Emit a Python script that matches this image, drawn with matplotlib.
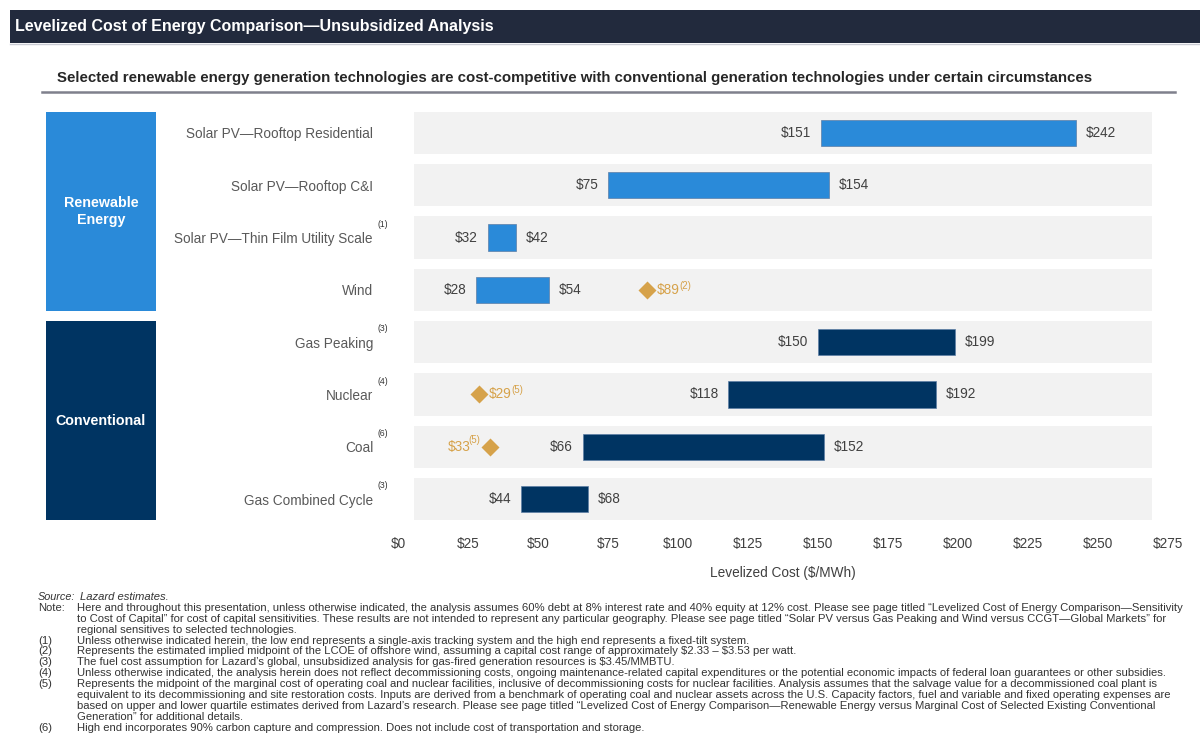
import numpy as np
import matplotlib
matplotlib.use("Agg")
import matplotlib.pyplot as plt
import matplotlib.transforms as mtransforms
from matplotlib.patches import Rectangle
from matplotlib.lines import Line2D

plt.rcParams["font.family"] = ["Liberation Sans", "DejaVu Sans"]
plt.rcParams["text.parse_math"] = False

# --- data -------------------------------------------------------------------
technologies = [
    "Solar PV\u2014Rooftop Residential",
    "Solar PV\u2014Rooftop C&I",
    "Solar PV\u2014Thin Film Utility Scale",
    "Wind",
    "Gas Peaking",
    "Nuclear",
    "Coal",
    "Gas Combined Cycle",
]
tech_notes = ["", "", "(1)", "", "(3)", "(4)", "(6)", "(3)"]
groups = ["Renewable\nEnergy", "Conventional"]
group_of_row = [0, 0, 0, 0, 1, 1, 1, 1]
low_cost = [151, 75, 32, 28, 150, 118, 66, 44]
high_cost = [242, 154, 42, 54, 199, 192, 152, 68]

# midpoint markers (offshore wind, marginal nuclear / coal)
marker_rows = [3, 5, 6]
marker_cost = [89, 29, 33]
marker_notes = ["(2)", "(5)", "(5)"]
marker_side = ["right", "right", "left"]

xticks = list(range(0, 276, 25))
xtick_labels = ["$%d" % v for v in xticks]

title = "Levelized Cost of Energy Comparison\u2014Unsubsidized Analysis"
subtitle = ("Selected renewable energy generation technologies are cost-competitive "
            "with conventional generation technologies under certain circumstances")

footnotes = [
    ("Source:", "Lazard estimates."),
    ("Note:", "Here and throughout this presentation, unless otherwise indicated, the analysis assumes 60% debt at 8% interest rate and 40% equity at 12% cost. Please see page titled \u201cLevelized Cost of Energy Comparison\u2014Sensitivity"),
    ("", "to Cost of Capital\u201d for cost of capital sensitivities. These results are not intended to represent any particular geography. Please see page titled \u201cSolar PV versus Gas Peaking and Wind versus CCGT\u2014Global Markets\u201d for"),
    ("", "regional sensitives to selected technologies."),
    ("(1)", "Unless otherwise indicated herein, the low end represents a single-axis tracking system and the high end represents a fixed-tilt system."),
    ("(2)", "Represents the estimated implied midpoint of the LCOE of offshore wind, assuming a capital cost range of approximately $2.33 \u2013 $3.53 per watt."),
    ("(3)", "The fuel cost assumption for Lazard\u2019s global, unsubsidized analysis for gas-fired generation resources is $3.45/MMBTU."),
    ("(4)", "Unless otherwise indicated, the analysis herein does not reflect decommissioning costs, ongoing maintenance-related capital expenditures or the potential economic impacts of federal loan guarantees or other subsidies."),
    ("(5)", "Represents the midpoint of the marginal cost of operating coal and nuclear facilities, inclusive of decommissioning costs for nuclear facilities. Analysis assumes that the salvage value for a decommissioned coal plant is"),
    ("", "equivalent to its decommissioning and site restoration costs. Inputs are derived from a benchmark of operating coal and nuclear assets across the U.S. Capacity factors, fuel and variable and fixed operating expenses are"),
    ("", "based on upper and lower quartile estimates derived from Lazard\u2019s research. Please see page titled \u201cLevelized Cost of Energy Comparison\u2014Renewable Energy versus Marginal Cost of Selected Existing Conventional"),
    ("", "Generation\u201d for additional details."),
    ("(6)", "High end incorporates 90% carbon capture and compression. Does not include cost of transportation and storage."),
]

# --- styling ------------------------------------------------------------------
group_colors = ["#2a8ad9", "#003462"]
gold = "#d6a24a"
value_grey = "#404040"
label_grey = "#595959"
row_bg = "#f2f2f2"

W, H = 1200, 735
fig = plt.figure(figsize=(W / 100, H / 100), dpi=100)


def fx(px):
    return px / W


def fy(py):
    return 1 - py / H


# header band
fig.add_artist(Rectangle((fx(10), fy(43)), fx(1190), 33 / H, transform=fig.transFigure,
                         facecolor="#222a3d", edgecolor="none", zorder=0))
fig.add_artist(Line2D([fx(10), 1], [fy(43.5)] * 2, color="#c9cbd3", lw=1))
fig.text(fx(15), fy(26), title, color="white", fontsize=11.5, fontweight="bold",
         ha="left", va="center")

fig.text(fx(57), fy(78), subtitle, color="#262626", fontsize=10.85, fontweight="bold",
         ha="left", va="center")
fig.add_artist(Line2D([fx(42), fx(1175)], [fy(92)] * 2, color="#7f808c", lw=1.8))

# --- main chart ------------------------------------------------------------------
ax = fig.add_axes([fx(398), fy(525.2), 770 / W, 418.4 / H])
ax.set_facecolor("none")
rows = np.arange(len(technologies))

ax.barh(rows, 269.3 - 5.7, left=5.7, height=0.81, color=row_bg, zorder=0)

low = np.array(low_cost)
high = np.array(high_cost)
bar_colors = [group_colors[g] for g in group_of_row]
ax.barh(rows, high - low, left=low, height=0.5, color=bar_colors,
        edgecolor="#5d7fa6", linewidth=0.5, zorder=2)

for r, lo, hi in zip(rows, low, high):
    ax.annotate("$%d" % lo, xy=(lo, r), xytext=(-7, 0), textcoords="offset points",
                ha="right", va="center", fontsize=9.8, color=value_grey)
    ax.annotate("$%d" % hi, xy=(hi, r), xytext=(7, 0), textcoords="offset points",
                ha="left", va="center", fontsize=9.8, color=value_grey)

ax.plot(marker_cost, marker_rows, "D", ms=9.5, color=gold, mec="none", zorder=3)
for r, v, note, side in zip(marker_rows, marker_cost, marker_notes, marker_side):
    if side == "right":
        t = ax.annotate("$%d" % v, xy=(v, r), xytext=(7, 0), textcoords="offset points",
                        ha="left", va="center", fontsize=9.8, color=gold)
        ax.annotate(note, xy=(1, 0.45), xycoords=t, xytext=(-0.5, 0), textcoords="offset points",
                    ha="left", va="bottom", fontsize=7, color=gold)
    else:
        n = ax.annotate(note, xy=(v, r), xytext=(-7, 1.5), textcoords="offset points",
                        ha="right", va="bottom", fontsize=7, color=gold)
        ax.annotate("$%d" % v, xy=(0, 0), xycoords=n, xytext=(1.5, -1.5), textcoords="offset points",
                    ha="right", va="center", fontsize=9.8, color=gold)

ax.set_xlim(0, 275)
ax.set_ylim(len(technologies) - 0.5, -0.5)
ax.set_xticks(xticks)
ax.set_xticklabels(xtick_labels)
ax.set_yticks(rows)
ax.set_yticklabels(technologies)
ax.tick_params(axis="x", length=0, pad=8.5, labelsize=9.8, labelcolor=value_grey)
ax.tick_params(axis="y", length=0, pad=18, labelsize=9.8, labelcolor=label_grey)
ax.set_xlabel("Levelized Cost ($/MWh)", fontsize=9.8, color=value_grey, labelpad=10.5)
for s in ax.spines.values():
    s.set_visible(False)

# category blocks and note markers on the row labels, x in figure units / y in rows
blend = mtransforms.blended_transform_factory(fig.transFigure, ax.transData)
for g, name in enumerate(groups):
    members = [r for r in rows if group_of_row[r] == g]
    top, bottom = min(members) - 0.405, max(members) + 0.405
    ax.add_patch(Rectangle((fx(46), top), 110 / W, bottom - top, transform=blend,
                           facecolor=group_colors[g], edgecolor="none", clip_on=False))
    ax.text(fx(101), (top + bottom) / 2, name, transform=blend, ha="center", va="center",
            color="white", fontsize=10.3, fontweight="bold", linespacing=1.25)

for r, note in zip(rows, tech_notes):
    if note:
        ax.annotate(note, xy=(fx(377), r), xycoords=blend, xytext=(0, 9.5),
                    textcoords="offset points", ha="left", va="center",
                    fontsize=6.2, color="#333333")

# --- footnotes --------------------------------------------------------------------
for i, (tag, line) in enumerate(footnotes):
    ypos = fy(597 + 10.9 * i)
    is_source = tag == "Source:"
    style = "italic" if is_source else "normal"
    if tag:
        fig.text(fx(38), ypos, tag, fontsize=7.8 if is_source else 8.1, color="#333333",
                 style=style, ha="left", va="center")
    fig.text(fx(80 if is_source else 77), ypos, line, fontsize=8.1, color="#333333",
             style=style, ha="left", va="center")

fig.savefig("out.png", dpi=100)
